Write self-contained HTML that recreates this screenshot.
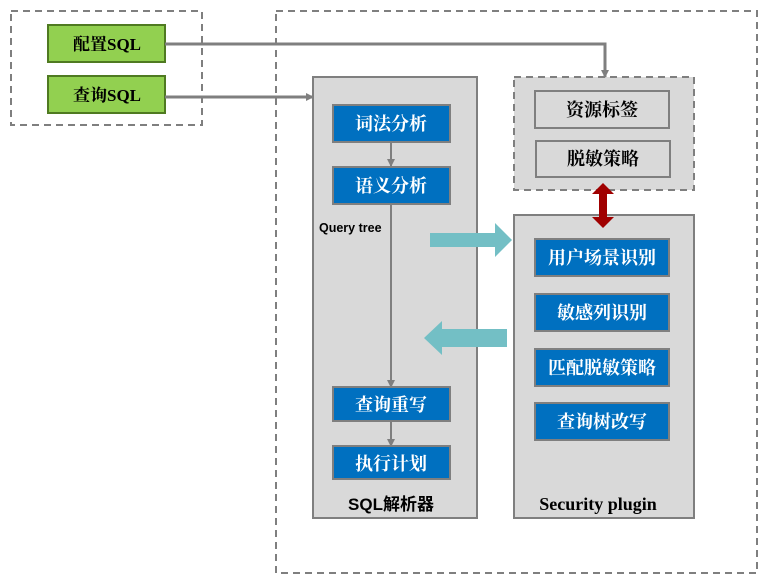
<!DOCTYPE html>
<html><head><meta charset="utf-8"><style>body{margin:0;background:#fff}svg{display:block}</style></head><body>
<svg width="767" height="584" xmlns="http://www.w3.org/2000/svg" font-family="'Liberation Serif','Noto Serif CJK SC','Noto Sans CJK SC',serif">
<defs>
<marker id="a" markerWidth="8" markerHeight="8" refX="7" refY="4" orient="auto" markerUnits="userSpaceOnUse"><path d="M0,0 L8,4 L0,8 z" fill="#7f7f7f"/></marker>
</defs>
<rect x="11" y="11" width="191" height="114" fill="none" stroke="#7f7f7f" stroke-width="2" stroke-dasharray="7,5"/>
<rect x="276" y="11" width="481" height="562" fill="none" stroke="#7f7f7f" stroke-width="2" stroke-dasharray="7,5"/>
<rect x="48" y="25" width="117" height="37" fill="#92d050" stroke="#4f7a21" stroke-width="2"/>
<rect x="48" y="76" width="117" height="37" fill="#92d050" stroke="#4f7a21" stroke-width="2"/>
<g font-size="17" font-weight="bold" text-anchor="middle" fill="#000">
<text x="107" y="50">配置SQL</text><text x="107" y="101">查询SQL</text></g>
<rect x="313" y="77" width="164" height="441" fill="#d9d9d9" stroke="#7f7f7f" stroke-width="2"/>
<rect x="514" y="77" width="180" height="113" fill="#d9d9d9" stroke="#7f7f7f" stroke-width="2" stroke-dasharray="7,5"/>
<rect x="514" y="215" width="180" height="303" fill="#d9d9d9" stroke="#7f7f7f" stroke-width="2"/>
<polyline points="165,44 605,44 605,77" fill="none" stroke="#7f7f7f" stroke-width="3" marker-end="url(#a)"/>
<line x1="165" y1="97" x2="313" y2="97" stroke="#7f7f7f" stroke-width="3" marker-end="url(#a)"/>
<g stroke="#7f7f7f" stroke-width="2" marker-end="url(#a)">
<line x1="391" y1="142" x2="391" y2="166"/><line x1="391" y1="204" x2="391" y2="387"/><line x1="391" y1="421" x2="391" y2="446"/></g>
<g fill="#0070c0" stroke="#7f7f7f" stroke-width="2">
<rect x="333" y="105" width="117" height="37"/><rect x="333" y="167" width="117" height="37"/>
<rect x="333" y="387" width="117" height="34"/><rect x="333" y="446" width="117" height="33"/>
<rect x="535" y="239" width="134" height="37"/><rect x="535" y="294" width="134" height="37"/>
<rect x="535" y="349" width="134" height="37"/><rect x="535" y="403" width="134" height="37"/></g>
<rect x="535" y="91" width="134" height="37" fill="#d9d9d9" stroke="#7f7f7f" stroke-width="2"/>
<rect x="536" y="141" width="134" height="36" fill="#d9d9d9" stroke="#7f7f7f" stroke-width="2"/>
<g font-size="18" font-weight="bold" text-anchor="middle" fill="#fff">
<text x="391" y="130">词法分析</text><text x="391" y="192">语义分析</text>
<text x="391" y="411">查询重写</text><text x="391" y="470">执行计划</text>
<text x="602" y="264">用户场景识别</text><text x="602" y="319">敏感列识别</text>
<text x="602" y="374">匹配脱敏策略</text><text x="602" y="428">查询树改写</text></g>
<g font-size="18" font-weight="bold" text-anchor="middle" fill="#000">
<text x="602" y="116">资源标签</text><text x="603" y="165">脱敏策略</text></g>
<text x="319" y="232" font-family="'Liberation Sans',sans-serif" font-size="12.5" font-weight="bold">Query tree</text>
<text x="391" y="510" font-family="'Liberation Sans','Noto Sans CJK SC',sans-serif" font-size="17" font-weight="bold" text-anchor="middle">SQL解析器</text>
<text x="598" y="510" font-size="18" font-weight="bold" text-anchor="middle">Security plugin</text>
<polygon points="430,233 495,233 495,223 512,240 495,257 495,247 430,247" fill="#73bfc5"/>
<polygon points="507,329 442,329 442,321 424,338 442,355 442,347 507,347" fill="#73bfc5"/>
<polygon points="603,183 614,194 607,194 607,217 614,217 603,228 592,217 599,217 599,194 592,194" fill="#a00000"/>
</svg>
</body></html>
